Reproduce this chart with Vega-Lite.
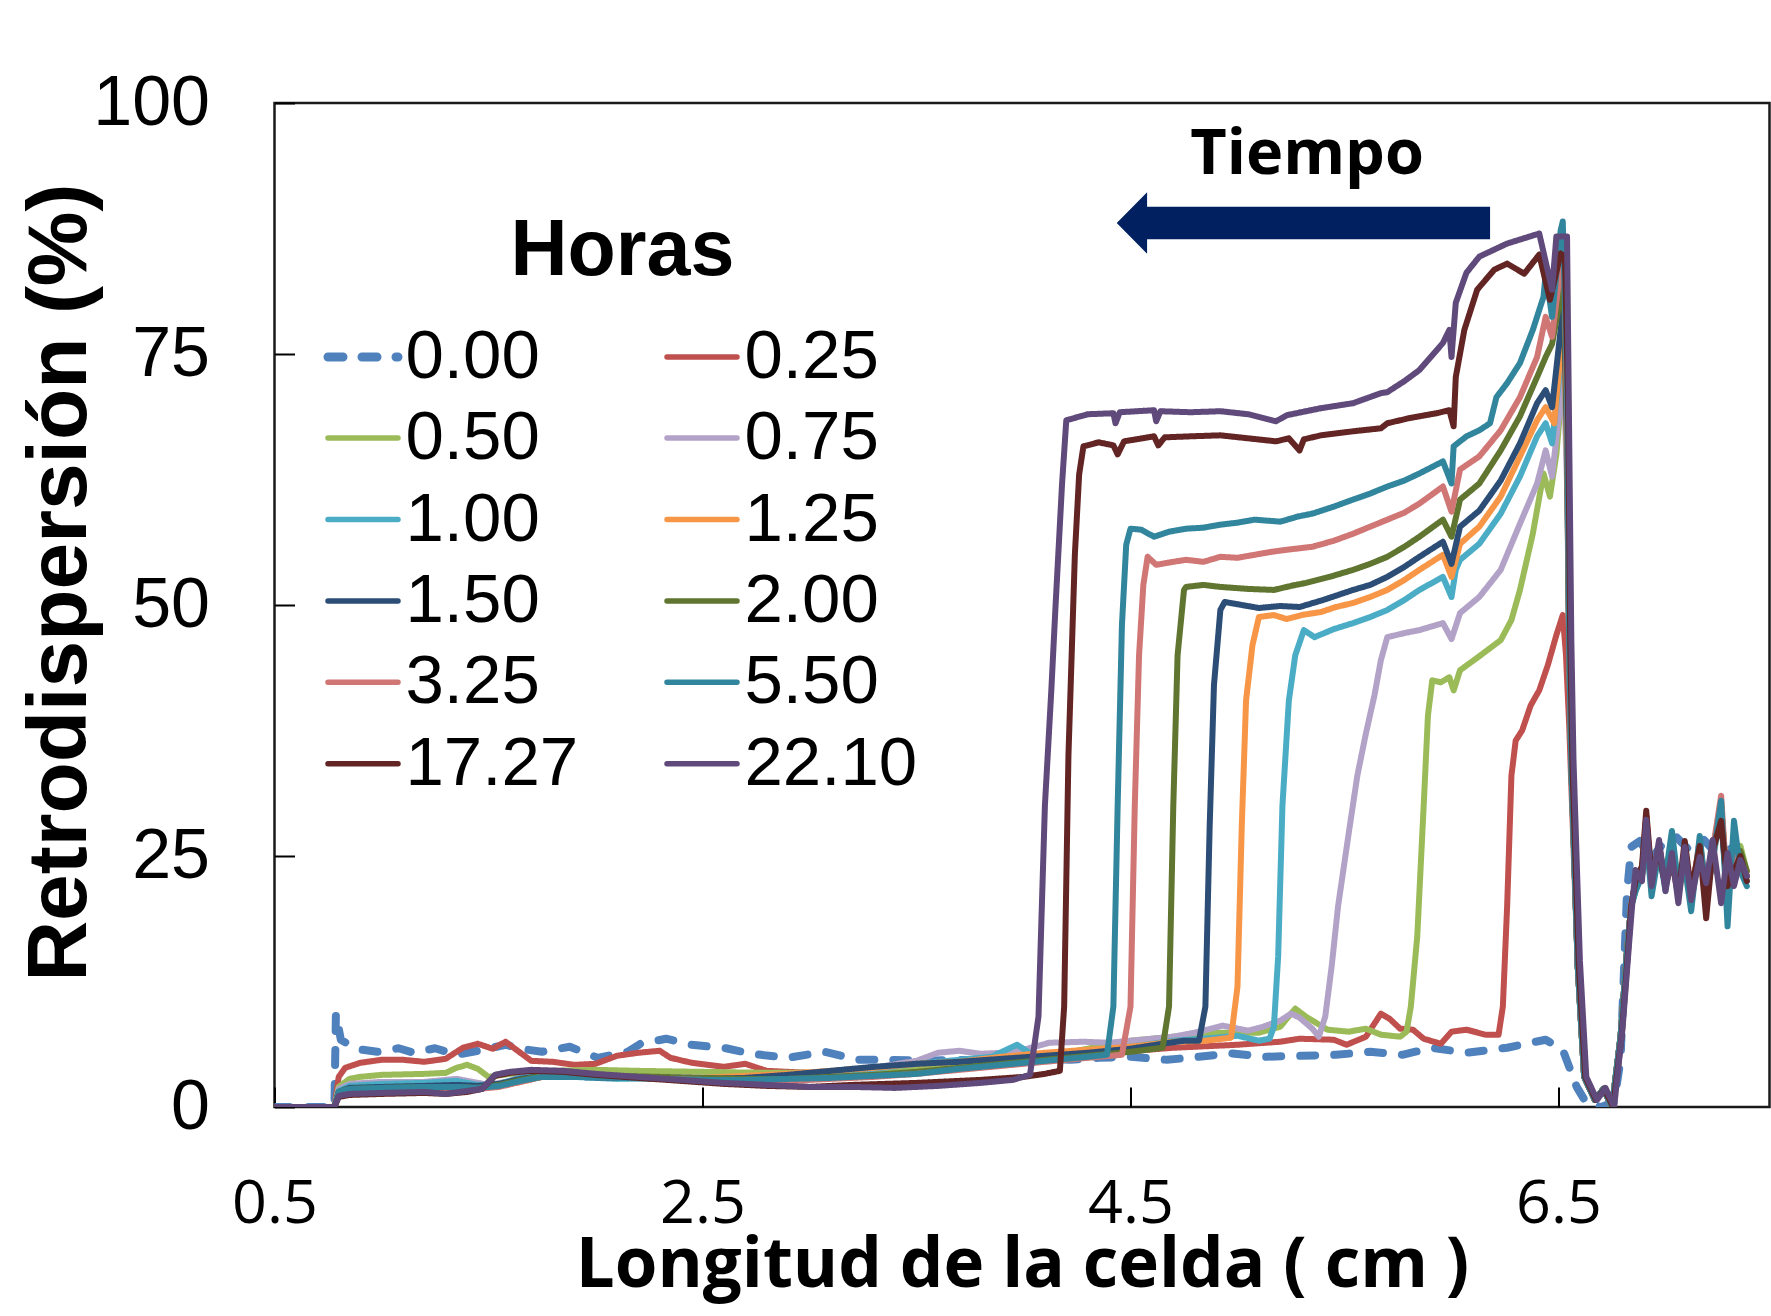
{
"$schema": "https://vega.github.io/schema/vega-lite/v6.json",
"width": 1495, "height": 1004,
"autosize": {"type": "none"},
"padding": {"left": 274.5, "top": 103, "right": 1.5, "bottom": 209},
"background": "white",
"config": {"view": {"stroke": "#1a1a1a", "strokeWidth": 2.5}, "axis": {"grid": false}},
"datasets": {
"ann": [{"label": "Tiempo", "x": 5.325, "y": 92.9}],
"arrow": [{"x": 5.308, "y": 88.05}],
"curves": [
{"h":"0.00","x":0.5,"y":0},{"h":"0.00","x":0.78,"y":0},{"h":"0.00","x":0.787,"y":9.3},{"h":"0.00","x":0.81,"y":6.7},{"h":"0.00","x":0.85,"y":6.2},{"h":"0.00","x":0.91,"y":5.7},{"h":"0.00","x":0.98,"y":5.5},{"h":"0.00","x":1.08,"y":5.85},{"h":"0.00","x":1.15,"y":5.4},{"h":"0.00","x":1.25,"y":5.85},{"h":"0.00","x":1.35,"y":5.2},{"h":"0.00","x":1.45,"y":5.6},{"h":"0.00","x":1.58,"y":6.2},{"h":"0.00","x":1.65,"y":5.8},{"h":"0.00","x":1.75,"y":5.5},{"h":"0.00","x":1.88,"y":6.0},{"h":"0.00","x":2.01,"y":4.9},{"h":"0.00","x":2.15,"y":5.5},{"h":"0.00","x":2.21,"y":6.3},{"h":"0.00","x":2.33,"y":6.8},{"h":"0.00","x":2.45,"y":6.2},{"h":"0.00","x":2.61,"y":5.85},{"h":"0.00","x":2.73,"y":5.3},{"h":"0.00","x":2.9,"y":4.9},{"h":"0.00","x":3.07,"y":5.5},{"h":"0.00","x":3.23,"y":4.7},{"h":"0.00","x":3.38,"y":4.7},{"h":"0.00","x":3.55,"y":4.6},{"h":"0.00","x":3.7,"y":4.7},{"h":"0.00","x":3.9,"y":4.5},{"h":"0.00","x":4.05,"y":4.9},{"h":"0.00","x":4.22,"y":4.7},{"h":"0.00","x":4.35,"y":4.9},{"h":"0.00","x":4.5,"y":5.0},{"h":"0.00","x":4.67,"y":4.7},{"h":"0.00","x":4.82,"y":5.0},{"h":"0.00","x":4.97,"y":5.35},{"h":"0.00","x":5.13,"y":5.0},{"h":"0.00","x":5.3,"y":5.1},{"h":"0.00","x":5.46,"y":5.2},{"h":"0.00","x":5.62,"y":5.5},{"h":"0.00","x":5.77,"y":5.2},{"h":"0.00","x":5.91,"y":5.9},{"h":"0.00","x":6.07,"y":5.4},{"h":"0.00","x":6.26,"y":5.9},{"h":"0.00","x":6.44,"y":6.7},{"h":"0.00","x":6.52,"y":5.7},{"h":"0.00","x":6.55,"y":4.0},{"h":"0.00","x":6.585,"y":2.0},{"h":"0.00","x":6.63,"y":0.4},{"h":"0.00","x":6.7,"y":0},{"h":"0.00","x":6.76,"y":0.5},{"h":"0.00","x":6.79,"y":4.7},{"h":"0.00","x":6.82,"y":21.3},{"h":"0.00","x":6.84,"y":25.9},{"h":"0.00","x":6.88,"y":26.5},{"h":"0.00","x":6.93,"y":24.6},{"h":"0.00","x":6.99,"y":26.3},{"h":"0.00","x":7.05,"y":26.9},{"h":"0.00","x":7.11,"y":25.6},{"h":"0.00","x":7.18,"y":26.6},{"h":"0.00","x":7.25,"y":24.9},{"h":"0.00","x":7.31,"y":25.8},{"h":"0.00","x":7.38,"y":24.3},

{"h":"0.25","x":0.5,"y":0},{"h":"0.25","x":0.78,"y":0},{"h":"0.25","x":0.8,"y":3.0},{"h":"0.25","x":0.83,"y":3.9},{"h":"0.25","x":0.9,"y":4.4},{"h":"0.25","x":1.0,"y":4.7},{"h":"0.25","x":1.1,"y":4.7},{"h":"0.25","x":1.2,"y":4.5},{"h":"0.25","x":1.3,"y":4.8},{"h":"0.25","x":1.38,"y":5.9},{"h":"0.25","x":1.45,"y":6.3},{"h":"0.25","x":1.52,"y":5.8},{"h":"0.25","x":1.58,"y":6.5},{"h":"0.25","x":1.63,"y":5.7},{"h":"0.25","x":1.7,"y":4.6},{"h":"0.25","x":1.8,"y":4.5},{"h":"0.25","x":1.9,"y":4.2},{"h":"0.25","x":2.0,"y":4.3},{"h":"0.25","x":2.1,"y":5.1},{"h":"0.25","x":2.2,"y":5.4},{"h":"0.25","x":2.3,"y":5.6},{"h":"0.25","x":2.35,"y":4.9},{"h":"0.25","x":2.45,"y":4.4},{"h":"0.25","x":2.6,"y":4.0},{"h":"0.25","x":2.7,"y":4.3},{"h":"0.25","x":2.8,"y":3.6},{"h":"0.25","x":2.9,"y":3.5},{"h":"0.25","x":3.0,"y":3.4},{"h":"0.25","x":3.2,"y":3.3},{"h":"0.25","x":3.5,"y":3.6},{"h":"0.25","x":3.8,"y":4.2},{"h":"0.25","x":4.1,"y":4.8},{"h":"0.25","x":4.4,"y":5.4},{"h":"0.25","x":4.7,"y":5.9},{"h":"0.25","x":5.0,"y":6.2},{"h":"0.25","x":5.2,"y":6.5},{"h":"0.25","x":5.29,"y":6.8},{"h":"0.25","x":5.45,"y":6.7},{"h":"0.25","x":5.51,"y":6.2},{"h":"0.25","x":5.6,"y":7.0},{"h":"0.25","x":5.67,"y":9.3},{"h":"0.25","x":5.71,"y":8.8},{"h":"0.25","x":5.76,"y":7.8},{"h":"0.25","x":5.82,"y":7.7},{"h":"0.25","x":5.87,"y":6.8},{"h":"0.25","x":5.95,"y":6.3},{"h":"0.25","x":6.0,"y":7.5},{"h":"0.25","x":6.07,"y":7.7},{"h":"0.25","x":6.16,"y":7.2},{"h":"0.25","x":6.22,"y":7.2},{"h":"0.25","x":6.24,"y":10},{"h":"0.25","x":6.26,"y":20},{"h":"0.25","x":6.28,"y":33},{"h":"0.25","x":6.3,"y":36.5},{"h":"0.25","x":6.33,"y":37.5},{"h":"0.25","x":6.37,"y":40},{"h":"0.25","x":6.41,"y":41.5},{"h":"0.25","x":6.45,"y":44},{"h":"0.25","x":6.49,"y":47},{"h":"0.25","x":6.52,"y":49},{"h":"0.25","x":6.535,"y":45},{"h":"0.25","x":6.55,"y":38},{"h":"0.25","x":6.56,"y":32},{"h":"0.25","x":6.59,"y":14},{"h":"0.25","x":6.62,"y":3},{"h":"0.25","x":6.67,"y":0.7},{"h":"0.25","x":6.71,"y":1.8},{"h":"0.25","x":6.75,"y":0},{"h":"0.25","x":6.79,"y":7},{"h":"0.25","x":6.82,"y":15.5},{"h":"0.25","x":6.84,"y":20},{"h":"0.25","x":6.86,"y":22.5},{"h":"0.25","x":6.89,"y":23.0},{"h":"0.25","x":6.91,"y":29.0},{"h":"0.25","x":6.935,"y":22.0},{"h":"0.25","x":6.97,"y":25.5},{"h":"0.25","x":7.0,"y":22.5},{"h":"0.25","x":7.03,"y":26.5},{"h":"0.25","x":7.06,"y":21.5},{"h":"0.25","x":7.09,"y":25.0},{"h":"0.25","x":7.12,"y":21.5},{"h":"0.25","x":7.16,"y":26.0},{"h":"0.25","x":7.19,"y":22.0},{"h":"0.25","x":7.22,"y":25.0},{"h":"0.25","x":7.26,"y":29.5},{"h":"0.25","x":7.29,"y":21.5},{"h":"0.25","x":7.32,"y":24.5},{"h":"0.25","x":7.35,"y":25.0},{"h":"0.25","x":7.38,"y":23.0},

{"h":"0.50","x":0.5,"y":0},{"h":"0.50","x":0.78,"y":0},{"h":"0.50","x":0.8,"y":2.0},{"h":"0.50","x":0.85,"y":2.8},{"h":"0.50","x":0.9,"y":3.0},{"h":"0.50","x":1.0,"y":3.2},{"h":"0.50","x":1.2,"y":3.3},{"h":"0.50","x":1.3,"y":3.4},{"h":"0.50","x":1.35,"y":3.9},{"h":"0.50","x":1.4,"y":4.2},{"h":"0.50","x":1.45,"y":3.8},{"h":"0.50","x":1.5,"y":3.0},{"h":"0.50","x":1.6,"y":3.3},{"h":"0.50","x":1.8,"y":3.6},{"h":"0.50","x":2.0,"y":3.7},{"h":"0.50","x":2.2,"y":3.6},{"h":"0.50","x":2.5,"y":3.5},{"h":"0.50","x":2.8,"y":3.4},{"h":"0.50","x":3.0,"y":3.4},{"h":"0.50","x":3.3,"y":3.6},{"h":"0.50","x":3.6,"y":4.1},{"h":"0.50","x":3.9,"y":4.7},{"h":"0.50","x":4.2,"y":5.4},{"h":"0.50","x":4.5,"y":6.6},{"h":"0.50","x":4.7,"y":7.0},{"h":"0.50","x":4.9,"y":7.4},{"h":"0.50","x":5.1,"y":7.4},{"h":"0.50","x":5.2,"y":8.0},{"h":"0.50","x":5.27,"y":9.8},{"h":"0.50","x":5.32,"y":9.0},{"h":"0.50","x":5.42,"y":7.7},{"h":"0.50","x":5.52,"y":7.5},{"h":"0.50","x":5.6,"y":7.8},{"h":"0.50","x":5.67,"y":7.2},{"h":"0.50","x":5.76,"y":7.0},{"h":"0.50","x":5.79,"y":7.5},{"h":"0.50","x":5.81,"y":10},{"h":"0.50","x":5.84,"y":17},{"h":"0.50","x":5.87,"y":30},{"h":"0.50","x":5.89,"y":39},{"h":"0.50","x":5.91,"y":42.5},{"h":"0.50","x":5.95,"y":42.3},{"h":"0.50","x":5.99,"y":42.8},{"h":"0.50","x":6.01,"y":41.5},{"h":"0.50","x":6.04,"y":43.5},{"h":"0.50","x":6.13,"y":44.9},{"h":"0.50","x":6.23,"y":46.5},{"h":"0.50","x":6.28,"y":48.5},{"h":"0.50","x":6.32,"y":51.5},{"h":"0.50","x":6.38,"y":57.1},{"h":"0.50","x":6.43,"y":63.1},{"h":"0.50","x":6.46,"y":60.8},{"h":"0.50","x":6.49,"y":65},{"h":"0.50","x":6.51,"y":70},{"h":"0.50","x":6.525,"y":79},{"h":"0.50","x":6.54,"y":65},{"h":"0.50","x":6.55,"y":46},{"h":"0.50","x":6.56,"y":34},{"h":"0.50","x":6.59,"y":14},{"h":"0.50","x":6.62,"y":3},{"h":"0.50","x":6.67,"y":0.7},{"h":"0.50","x":6.71,"y":1.8},{"h":"0.50","x":6.75,"y":0},{"h":"0.50","x":6.79,"y":7},{"h":"0.50","x":6.82,"y":15.5},{"h":"0.50","x":6.84,"y":20},{"h":"0.50","x":6.86,"y":22.0},{"h":"0.50","x":6.89,"y":23.5},{"h":"0.50","x":6.91,"y":28.5},{"h":"0.50","x":6.935,"y":22.0},{"h":"0.50","x":6.97,"y":26.0},{"h":"0.50","x":7.0,"y":22.0},{"h":"0.50","x":7.03,"y":26.0},{"h":"0.50","x":7.06,"y":21.0},{"h":"0.50","x":7.09,"y":25.5},{"h":"0.50","x":7.12,"y":21.0},{"h":"0.50","x":7.16,"y":25.5},{"h":"0.50","x":7.19,"y":21.5},{"h":"0.50","x":7.22,"y":25.5},{"h":"0.50","x":7.26,"y":30.0},{"h":"0.50","x":7.29,"y":21.0},{"h":"0.50","x":7.32,"y":25.0},{"h":"0.50","x":7.35,"y":26.0},{"h":"0.50","x":7.38,"y":23.5},

{"h":"0.75","x":0.5,"y":0},{"h":"0.75","x":0.78,"y":0},{"h":"0.75","x":0.8,"y":1.8},{"h":"0.75","x":0.85,"y":2.3},{"h":"0.75","x":1.0,"y":2.5},{"h":"0.75","x":1.2,"y":2.5},{"h":"0.75","x":1.35,"y":2.8},{"h":"0.75","x":1.45,"y":2.4},{"h":"0.75","x":1.5,"y":2.2},{"h":"0.75","x":1.58,"y":2.5},{"h":"0.75","x":1.66,"y":3.0},{"h":"0.75","x":1.75,"y":3.2},{"h":"0.75","x":1.9,"y":3.1},{"h":"0.75","x":2.1,"y":3.0},{"h":"0.75","x":2.3,"y":3.0},{"h":"0.75","x":2.5,"y":2.9},{"h":"0.75","x":2.7,"y":3.0},{"h":"0.75","x":2.9,"y":3.1},{"h":"0.75","x":3.1,"y":3.4},{"h":"0.75","x":3.3,"y":3.9},{"h":"0.75","x":3.5,"y":4.6},{"h":"0.75","x":3.6,"y":5.4},{"h":"0.75","x":3.7,"y":5.6},{"h":"0.75","x":3.8,"y":5.3},{"h":"0.75","x":3.9,"y":5.4},{"h":"0.75","x":4.0,"y":5.7},{"h":"0.75","x":4.12,"y":6.4},{"h":"0.75","x":4.28,"y":6.5},{"h":"0.75","x":4.4,"y":6.4},{"h":"0.75","x":4.5,"y":6.6},{"h":"0.75","x":4.7,"y":7.0},{"h":"0.75","x":4.8,"y":7.4},{"h":"0.75","x":4.93,"y":8.1},{"h":"0.75","x":5.05,"y":7.6},{"h":"0.75","x":5.12,"y":8.0},{"h":"0.75","x":5.2,"y":8.6},{"h":"0.75","x":5.25,"y":9.3},{"h":"0.75","x":5.29,"y":8.9},{"h":"0.75","x":5.35,"y":7.8},{"h":"0.75","x":5.38,"y":7.0},{"h":"0.75","x":5.41,"y":9},{"h":"0.75","x":5.44,"y":14},{"h":"0.75","x":5.47,"y":20},{"h":"0.75","x":5.52,"y":27.3},{"h":"0.75","x":5.56,"y":33},{"h":"0.75","x":5.6,"y":37.2},{"h":"0.75","x":5.64,"y":41},{"h":"0.75","x":5.67,"y":44.5},{"h":"0.75","x":5.7,"y":46.8},{"h":"0.75","x":5.78,"y":47.2},{"h":"0.75","x":5.85,"y":47.5},{"h":"0.75","x":5.96,"y":48.2},{"h":"0.75","x":6.0,"y":46.6},{"h":"0.75","x":6.04,"y":49.2},{"h":"0.75","x":6.13,"y":50.8},{"h":"0.75","x":6.23,"y":53.5},{"h":"0.75","x":6.32,"y":58.1},{"h":"0.75","x":6.4,"y":62.1},{"h":"0.75","x":6.44,"y":65.4},{"h":"0.75","x":6.47,"y":62.8},{"h":"0.75","x":6.51,"y":70.4},{"h":"0.75","x":6.525,"y":73},{"h":"0.75","x":6.54,"y":62},{"h":"0.75","x":6.55,"y":46},{"h":"0.75","x":6.56,"y":34},{"h":"0.75","x":6.59,"y":14},{"h":"0.75","x":6.62,"y":3},{"h":"0.75","x":6.67,"y":0.7},{"h":"0.75","x":6.71,"y":1.8},{"h":"0.75","x":6.75,"y":0},{"h":"0.75","x":6.79,"y":7},{"h":"0.75","x":6.82,"y":15.5},{"h":"0.75","x":6.84,"y":20},{"h":"0.75","x":6.86,"y":22.5},{"h":"0.75","x":6.89,"y":23.0},{"h":"0.75","x":6.91,"y":28.0},{"h":"0.75","x":6.935,"y":22.5},{"h":"0.75","x":6.97,"y":25.5},{"h":"0.75","x":7.0,"y":22.0},{"h":"0.75","x":7.03,"y":25.5},{"h":"0.75","x":7.06,"y":21.5},{"h":"0.75","x":7.09,"y":25.5},{"h":"0.75","x":7.12,"y":21.5},{"h":"0.75","x":7.16,"y":25.0},{"h":"0.75","x":7.19,"y":22.0},{"h":"0.75","x":7.22,"y":25.0},{"h":"0.75","x":7.26,"y":29.0},{"h":"0.75","x":7.29,"y":21.5},{"h":"0.75","x":7.32,"y":24.5},{"h":"0.75","x":7.35,"y":24.5},{"h":"0.75","x":7.38,"y":23.5},

{"h":"1.00","x":0.5,"y":0},{"h":"1.00","x":0.78,"y":0},{"h":"1.00","x":0.8,"y":1.6},{"h":"1.00","x":0.85,"y":2.1},{"h":"1.00","x":1.0,"y":2.3},{"h":"1.00","x":1.2,"y":2.4},{"h":"1.00","x":1.35,"y":2.6},{"h":"1.00","x":1.45,"y":2.2},{"h":"1.00","x":1.55,"y":2.3},{"h":"1.00","x":1.65,"y":2.9},{"h":"1.00","x":1.75,"y":3.2},{"h":"1.00","x":1.9,"y":3.0},{"h":"1.00","x":2.1,"y":2.8},{"h":"1.00","x":2.3,"y":2.9},{"h":"1.00","x":2.5,"y":2.8},{"h":"1.00","x":2.7,"y":3.0},{"h":"1.00","x":2.9,"y":3.2},{"h":"1.00","x":3.1,"y":3.5},{"h":"1.00","x":3.3,"y":3.8},{"h":"1.00","x":3.5,"y":4.3},{"h":"1.00","x":3.7,"y":4.7},{"h":"1.00","x":3.85,"y":5.0},{"h":"1.00","x":3.97,"y":6.2},{"h":"1.00","x":4.05,"y":5.1},{"h":"1.00","x":4.15,"y":5.0},{"h":"1.00","x":4.3,"y":5.5},{"h":"1.00","x":4.5,"y":6.0},{"h":"1.00","x":4.7,"y":6.6},{"h":"1.00","x":4.9,"y":6.9},{"h":"1.00","x":5.0,"y":7.1},{"h":"1.00","x":5.1,"y":6.6},{"h":"1.00","x":5.15,"y":6.8},{"h":"1.00","x":5.17,"y":8},{"h":"1.00","x":5.19,"y":15},{"h":"1.00","x":5.21,"y":30},{"h":"1.00","x":5.24,"y":40.5},{"h":"1.00","x":5.27,"y":45},{"h":"1.00","x":5.31,"y":47.5},{"h":"1.00","x":5.36,"y":46.8},{"h":"1.00","x":5.45,"y":47.6},{"h":"1.00","x":5.54,"y":48.2},{"h":"1.00","x":5.62,"y":48.8},{"h":"1.00","x":5.7,"y":49.5},{"h":"1.00","x":5.78,"y":50.5},{"h":"1.00","x":5.85,"y":51.5},{"h":"1.00","x":5.96,"y":52.8},{"h":"1.00","x":6.0,"y":50.8},{"h":"1.00","x":6.02,"y":53.5},{"h":"1.00","x":6.04,"y":54.5},{"h":"1.00","x":6.13,"y":56.1},{"h":"1.00","x":6.23,"y":59.1},{"h":"1.00","x":6.32,"y":62.8},{"h":"1.00","x":6.4,"y":66.8},{"h":"1.00","x":6.44,"y":68.1},{"h":"1.00","x":6.47,"y":66.1},{"h":"1.00","x":6.51,"y":74.1},{"h":"1.00","x":6.525,"y":77},{"h":"1.00","x":6.54,"y":64},{"h":"1.00","x":6.55,"y":46},{"h":"1.00","x":6.56,"y":34},{"h":"1.00","x":6.59,"y":14},{"h":"1.00","x":6.62,"y":3},{"h":"1.00","x":6.67,"y":0.7},{"h":"1.00","x":6.71,"y":1.8},{"h":"1.00","x":6.75,"y":0},{"h":"1.00","x":6.79,"y":7},{"h":"1.00","x":6.82,"y":15.5},{"h":"1.00","x":6.84,"y":20},{"h":"1.00","x":6.86,"y":21.5},{"h":"1.00","x":6.89,"y":23.5},{"h":"1.00","x":6.91,"y":27.0},{"h":"1.00","x":6.935,"y":22.0},{"h":"1.00","x":6.97,"y":25.5},{"h":"1.00","x":7.0,"y":21.5},{"h":"1.00","x":7.03,"y":27.0},{"h":"1.00","x":7.06,"y":21.5},{"h":"1.00","x":7.09,"y":24.5},{"h":"1.00","x":7.12,"y":20.5},{"h":"1.00","x":7.16,"y":26.0},{"h":"1.00","x":7.19,"y":21.0},{"h":"1.00","x":7.22,"y":24.5},{"h":"1.00","x":7.26,"y":29.5},{"h":"1.00","x":7.29,"y":20.5},{"h":"1.00","x":7.32,"y":26.0},{"h":"1.00","x":7.35,"y":24.0},{"h":"1.00","x":7.38,"y":22.5},

{"h":"1.25","x":0.5,"y":0},{"h":"1.25","x":0.78,"y":0},{"h":"1.25","x":0.8,"y":1.4},{"h":"1.25","x":0.85,"y":1.8},{"h":"1.25","x":1.0,"y":1.9},{"h":"1.25","x":1.2,"y":2.0},{"h":"1.25","x":1.35,"y":2.1},{"h":"1.25","x":1.45,"y":2.0},{"h":"1.25","x":1.55,"y":2.1},{"h":"1.25","x":1.65,"y":2.5},{"h":"1.25","x":1.75,"y":3.0},{"h":"1.25","x":1.9,"y":3.1},{"h":"1.25","x":2.1,"y":2.9},{"h":"1.25","x":2.3,"y":2.9},{"h":"1.25","x":2.5,"y":2.9},{"h":"1.25","x":2.7,"y":3.1},{"h":"1.25","x":2.9,"y":3.3},{"h":"1.25","x":3.1,"y":3.6},{"h":"1.25","x":3.3,"y":3.9},{"h":"1.25","x":3.5,"y":4.3},{"h":"1.25","x":3.7,"y":4.5},{"h":"1.25","x":3.9,"y":5.0},{"h":"1.25","x":4.1,"y":5.4},{"h":"1.25","x":4.3,"y":5.7},{"h":"1.25","x":4.5,"y":6.0},{"h":"1.25","x":4.7,"y":6.5},{"h":"1.25","x":4.85,"y":6.6},{"h":"1.25","x":4.97,"y":6.9},{"h":"1.25","x":5.0,"y":12},{"h":"1.25","x":5.02,"y":28},{"h":"1.25","x":5.04,"y":40.5},{"h":"1.25","x":5.07,"y":46},{"h":"1.25","x":5.1,"y":48.8},{"h":"1.25","x":5.17,"y":49.0},{"h":"1.25","x":5.23,"y":48.6},{"h":"1.25","x":5.3,"y":49.0},{"h":"1.25","x":5.39,"y":49.3},{"h":"1.25","x":5.46,"y":49.8},{"h":"1.25","x":5.54,"y":50.2},{"h":"1.25","x":5.62,"y":50.8},{"h":"1.25","x":5.7,"y":51.5},{"h":"1.25","x":5.78,"y":52.5},{"h":"1.25","x":5.85,"y":53.5},{"h":"1.25","x":5.96,"y":55.0},{"h":"1.25","x":6.0,"y":52.8},{"h":"1.25","x":6.04,"y":56.1},{"h":"1.25","x":6.13,"y":57.8},{"h":"1.25","x":6.23,"y":60.8},{"h":"1.25","x":6.32,"y":64.8},{"h":"1.25","x":6.4,"y":68.4},{"h":"1.25","x":6.44,"y":69.7},{"h":"1.25","x":6.48,"y":68.1},{"h":"1.25","x":6.51,"y":75.4},{"h":"1.25","x":6.525,"y":78},{"h":"1.25","x":6.54,"y":64},{"h":"1.25","x":6.55,"y":46},{"h":"1.25","x":6.56,"y":34},{"h":"1.25","x":6.59,"y":14},{"h":"1.25","x":6.62,"y":3},{"h":"1.25","x":6.67,"y":0.7},{"h":"1.25","x":6.71,"y":1.8},{"h":"1.25","x":6.75,"y":0},{"h":"1.25","x":6.79,"y":7},{"h":"1.25","x":6.82,"y":15.5},{"h":"1.25","x":6.84,"y":20},{"h":"1.25","x":6.86,"y":22.5},{"h":"1.25","x":6.89,"y":23.0},{"h":"1.25","x":6.91,"y":28.0},{"h":"1.25","x":6.935,"y":21.5},{"h":"1.25","x":6.97,"y":26.0},{"h":"1.25","x":7.0,"y":22.5},{"h":"1.25","x":7.03,"y":26.5},{"h":"1.25","x":7.06,"y":21.0},{"h":"1.25","x":7.09,"y":25.0},{"h":"1.25","x":7.12,"y":21.0},{"h":"1.25","x":7.16,"y":25.5},{"h":"1.25","x":7.19,"y":21.5},{"h":"1.25","x":7.22,"y":25.0},{"h":"1.25","x":7.26,"y":29.0},{"h":"1.25","x":7.29,"y":22.0},{"h":"1.25","x":7.32,"y":24.5},{"h":"1.25","x":7.35,"y":25.0},{"h":"1.25","x":7.38,"y":23.5},

{"h":"1.50","x":0.5,"y":0},{"h":"1.50","x":0.78,"y":0},{"h":"1.50","x":0.8,"y":1.5},{"h":"1.50","x":0.85,"y":1.9},{"h":"1.50","x":1.0,"y":2.0},{"h":"1.50","x":1.2,"y":2.1},{"h":"1.50","x":1.35,"y":2.2},{"h":"1.50","x":1.45,"y":2.1},{"h":"1.50","x":1.55,"y":2.3},{"h":"1.50","x":1.65,"y":2.8},{"h":"1.50","x":1.75,"y":3.1},{"h":"1.50","x":1.9,"y":3.0},{"h":"1.50","x":2.1,"y":2.9},{"h":"1.50","x":2.3,"y":2.9},{"h":"1.50","x":2.5,"y":2.8},{"h":"1.50","x":2.7,"y":2.9},{"h":"1.50","x":2.9,"y":3.2},{"h":"1.50","x":3.1,"y":3.6},{"h":"1.50","x":3.3,"y":4.0},{"h":"1.50","x":3.5,"y":4.3},{"h":"1.50","x":3.7,"y":4.5},{"h":"1.50","x":3.9,"y":4.8},{"h":"1.50","x":4.1,"y":5.1},{"h":"1.50","x":4.3,"y":5.4},{"h":"1.50","x":4.5,"y":5.8},{"h":"1.50","x":4.65,"y":6.3},{"h":"1.50","x":4.75,"y":6.6},{"h":"1.50","x":4.82,"y":6.6},{"h":"1.50","x":4.85,"y":10},{"h":"1.50","x":4.87,"y":28},{"h":"1.50","x":4.89,"y":42},{"h":"1.50","x":4.92,"y":49.5},{"h":"1.50","x":4.94,"y":50.3},{"h":"1.50","x":5.02,"y":50.0},{"h":"1.50","x":5.1,"y":49.7},{"h":"1.50","x":5.2,"y":49.9},{"h":"1.50","x":5.29,"y":49.8},{"h":"1.50","x":5.4,"y":50.5},{"h":"1.50","x":5.54,"y":51.5},{"h":"1.50","x":5.62,"y":52.0},{"h":"1.50","x":5.7,"y":52.8},{"h":"1.50","x":5.78,"y":53.8},{"h":"1.50","x":5.85,"y":54.8},{"h":"1.50","x":5.96,"y":56.3},{"h":"1.50","x":6.0,"y":54.1},{"h":"1.50","x":6.04,"y":57.8},{"h":"1.50","x":6.13,"y":59.4},{"h":"1.50","x":6.23,"y":62.4},{"h":"1.50","x":6.32,"y":66.1},{"h":"1.50","x":6.4,"y":70.1},{"h":"1.50","x":6.44,"y":71.4},{"h":"1.50","x":6.47,"y":69.7},{"h":"1.50","x":6.51,"y":77.4},{"h":"1.50","x":6.525,"y":80},{"h":"1.50","x":6.54,"y":66},{"h":"1.50","x":6.55,"y":46},{"h":"1.50","x":6.56,"y":34},{"h":"1.50","x":6.59,"y":14},{"h":"1.50","x":6.62,"y":3},{"h":"1.50","x":6.67,"y":0.7},{"h":"1.50","x":6.71,"y":1.8},{"h":"1.50","x":6.75,"y":0},{"h":"1.50","x":6.79,"y":7},{"h":"1.50","x":6.82,"y":15.5},{"h":"1.50","x":6.84,"y":20},{"h":"1.50","x":6.86,"y":22.0},{"h":"1.50","x":6.89,"y":23.5},{"h":"1.50","x":6.91,"y":27.5},{"h":"1.50","x":6.935,"y":22.5},{"h":"1.50","x":6.97,"y":25.0},{"h":"1.50","x":7.0,"y":22.0},{"h":"1.50","x":7.03,"y":26.0},{"h":"1.50","x":7.06,"y":21.5},{"h":"1.50","x":7.09,"y":25.5},{"h":"1.50","x":7.12,"y":21.5},{"h":"1.50","x":7.16,"y":25.0},{"h":"1.50","x":7.19,"y":22.0},{"h":"1.50","x":7.22,"y":25.5},{"h":"1.50","x":7.26,"y":28.5},{"h":"1.50","x":7.29,"y":21.0},{"h":"1.50","x":7.32,"y":25.0},{"h":"1.50","x":7.35,"y":24.0},{"h":"1.50","x":7.38,"y":23.0},

{"h":"2.00","x":0.5,"y":0},{"h":"2.00","x":0.78,"y":0},{"h":"2.00","x":0.8,"y":1.5},{"h":"2.00","x":0.85,"y":1.8},{"h":"2.00","x":1.0,"y":1.9},{"h":"2.00","x":1.2,"y":2.0},{"h":"2.00","x":1.35,"y":2.0},{"h":"2.00","x":1.45,"y":1.9},{"h":"2.00","x":1.55,"y":2.2},{"h":"2.00","x":1.65,"y":2.7},{"h":"2.00","x":1.75,"y":3.1},{"h":"2.00","x":1.9,"y":3.2},{"h":"2.00","x":2.1,"y":3.1},{"h":"2.00","x":2.3,"y":3.0},{"h":"2.00","x":2.5,"y":2.9},{"h":"2.00","x":2.7,"y":2.8},{"h":"2.00","x":2.9,"y":2.8},{"h":"2.00","x":3.1,"y":3.0},{"h":"2.00","x":3.3,"y":3.2},{"h":"2.00","x":3.5,"y":3.5},{"h":"2.00","x":3.7,"y":3.9},{"h":"2.00","x":3.9,"y":4.3},{"h":"2.00","x":4.1,"y":4.7},{"h":"2.00","x":4.3,"y":5.1},{"h":"2.00","x":4.5,"y":5.5},{"h":"2.00","x":4.65,"y":5.9},{"h":"2.00","x":4.68,"y":10},{"h":"2.00","x":4.7,"y":30},{"h":"2.00","x":4.72,"y":45},{"h":"2.00","x":4.75,"y":51.5},{"h":"2.00","x":4.76,"y":51.8},{"h":"2.00","x":4.84,"y":52.0},{"h":"2.00","x":4.92,"y":51.8},{"h":"2.00","x":5.05,"y":51.6},{"h":"2.00","x":5.17,"y":51.5},{"h":"2.00","x":5.25,"y":51.9},{"h":"2.00","x":5.32,"y":52.2},{"h":"2.00","x":5.43,"y":52.8},{"h":"2.00","x":5.54,"y":53.5},{"h":"2.00","x":5.62,"y":54.1},{"h":"2.00","x":5.7,"y":54.8},{"h":"2.00","x":5.78,"y":55.8},{"h":"2.00","x":5.85,"y":56.8},{"h":"2.00","x":5.96,"y":58.5},{"h":"2.00","x":6.0,"y":56.8},{"h":"2.00","x":6.04,"y":60.5},{"h":"2.00","x":6.13,"y":62.1},{"h":"2.00","x":6.23,"y":65.4},{"h":"2.00","x":6.32,"y":68.8},{"h":"2.00","x":6.4,"y":72.7},{"h":"2.00","x":6.44,"y":74.7},{"h":"2.00","x":6.47,"y":76.0},{"h":"2.00","x":6.51,"y":80.7},{"h":"2.00","x":6.525,"y":82},{"h":"2.00","x":6.54,"y":68},{"h":"2.00","x":6.55,"y":46},{"h":"2.00","x":6.56,"y":34},{"h":"2.00","x":6.59,"y":14},{"h":"2.00","x":6.62,"y":3},{"h":"2.00","x":6.67,"y":0.7},{"h":"2.00","x":6.71,"y":1.8},{"h":"2.00","x":6.75,"y":0},{"h":"2.00","x":6.79,"y":7},{"h":"2.00","x":6.82,"y":15.5},{"h":"2.00","x":6.84,"y":20},{"h":"2.00","x":6.86,"y":22.5},{"h":"2.00","x":6.89,"y":23.0},{"h":"2.00","x":6.91,"y":28.0},{"h":"2.00","x":6.935,"y":22.0},{"h":"2.00","x":6.97,"y":25.5},{"h":"2.00","x":7.0,"y":22.5},{"h":"2.00","x":7.03,"y":26.0},{"h":"2.00","x":7.06,"y":22.0},{"h":"2.00","x":7.09,"y":25.0},{"h":"2.00","x":7.12,"y":21.0},{"h":"2.00","x":7.16,"y":25.5},{"h":"2.00","x":7.19,"y":22.0},{"h":"2.00","x":7.22,"y":25.0},{"h":"2.00","x":7.26,"y":30.0},{"h":"2.00","x":7.29,"y":21.5},{"h":"2.00","x":7.32,"y":24.5},{"h":"2.00","x":7.35,"y":25.5},{"h":"2.00","x":7.38,"y":23.5},

{"h":"3.25","x":0.5,"y":0},{"h":"3.25","x":0.78,"y":0},{"h":"3.25","x":0.8,"y":1.4},{"h":"3.25","x":0.85,"y":1.7},{"h":"3.25","x":1.0,"y":1.8},{"h":"3.25","x":1.2,"y":1.9},{"h":"3.25","x":1.35,"y":1.9},{"h":"3.25","x":1.45,"y":1.8},{"h":"3.25","x":1.55,"y":2.0},{"h":"3.25","x":1.65,"y":2.5},{"h":"3.25","x":1.75,"y":3.0},{"h":"3.25","x":1.9,"y":3.1},{"h":"3.25","x":2.1,"y":3.0},{"h":"3.25","x":2.3,"y":2.8},{"h":"3.25","x":2.5,"y":2.7},{"h":"3.25","x":2.7,"y":2.6},{"h":"3.25","x":2.9,"y":2.6},{"h":"3.25","x":3.1,"y":2.8},{"h":"3.25","x":3.3,"y":3.0},{"h":"3.25","x":3.5,"y":3.3},{"h":"3.25","x":3.7,"y":3.7},{"h":"3.25","x":3.9,"y":4.1},{"h":"3.25","x":4.1,"y":4.5},{"h":"3.25","x":4.3,"y":4.9},{"h":"3.25","x":4.46,"y":5.2},{"h":"3.25","x":4.5,"y":10},{"h":"3.25","x":4.52,"y":30},{"h":"3.25","x":4.54,"y":45},{"h":"3.25","x":4.56,"y":52},{"h":"3.25","x":4.58,"y":54.8},{"h":"3.25","x":4.62,"y":54.0},{"h":"3.25","x":4.7,"y":54.3},{"h":"3.25","x":4.76,"y":54.5},{"h":"3.25","x":4.84,"y":54.3},{"h":"3.25","x":4.92,"y":54.8},{"h":"3.25","x":5.0,"y":54.7},{"h":"3.25","x":5.08,"y":55.0},{"h":"3.25","x":5.16,"y":55.3},{"h":"3.25","x":5.23,"y":55.5},{"h":"3.25","x":5.35,"y":55.8},{"h":"3.25","x":5.45,"y":56.4},{"h":"3.25","x":5.54,"y":57.1},{"h":"3.25","x":5.62,"y":57.8},{"h":"3.25","x":5.7,"y":58.5},{"h":"3.25","x":5.78,"y":59.2},{"h":"3.25","x":5.85,"y":60.1},{"h":"3.25","x":5.96,"y":61.8},{"h":"3.25","x":6.0,"y":59.3},{"h":"3.25","x":6.04,"y":63.5},{"h":"3.25","x":6.13,"y":64.8},{"h":"3.25","x":6.23,"y":67.4},{"h":"3.25","x":6.32,"y":70.7},{"h":"3.25","x":6.4,"y":74.7},{"h":"3.25","x":6.44,"y":78.7},{"h":"3.25","x":6.47,"y":76.7},{"h":"3.25","x":6.51,"y":83.7},{"h":"3.25","x":6.525,"y":85.4},{"h":"3.25","x":6.54,"y":70},{"h":"3.25","x":6.55,"y":46},{"h":"3.25","x":6.56,"y":34},{"h":"3.25","x":6.59,"y":14},{"h":"3.25","x":6.62,"y":3},{"h":"3.25","x":6.67,"y":0.7},{"h":"3.25","x":6.71,"y":1.8},{"h":"3.25","x":6.75,"y":0},{"h":"3.25","x":6.79,"y":7},{"h":"3.25","x":6.82,"y":15.5},{"h":"3.25","x":6.84,"y":20},{"h":"3.25","x":6.86,"y":22.0},{"h":"3.25","x":6.89,"y":23.5},{"h":"3.25","x":6.91,"y":29.0},{"h":"3.25","x":6.935,"y":22.5},{"h":"3.25","x":6.97,"y":26.0},{"h":"3.25","x":7.0,"y":22.0},{"h":"3.25","x":7.03,"y":26.5},{"h":"3.25","x":7.06,"y":21.5},{"h":"3.25","x":7.09,"y":25.0},{"h":"3.25","x":7.12,"y":21.0},{"h":"3.25","x":7.16,"y":26.5},{"h":"3.25","x":7.19,"y":21.5},{"h":"3.25","x":7.22,"y":25.5},{"h":"3.25","x":7.26,"y":31.0},{"h":"3.25","x":7.29,"y":21.0},{"h":"3.25","x":7.32,"y":25.0},{"h":"3.25","x":7.35,"y":24.5},{"h":"3.25","x":7.38,"y":23.0},

{"h":"5.50","x":0.5,"y":0},{"h":"5.50","x":0.78,"y":0},{"h":"5.50","x":0.8,"y":1.5},{"h":"5.50","x":0.85,"y":1.8},{"h":"5.50","x":1.0,"y":1.9},{"h":"5.50","x":1.2,"y":2.0},{"h":"5.50","x":1.35,"y":2.0},{"h":"5.50","x":1.45,"y":1.9},{"h":"5.50","x":1.55,"y":2.1},{"h":"5.50","x":1.65,"y":2.6},{"h":"5.50","x":1.75,"y":3.0},{"h":"5.50","x":1.9,"y":3.0},{"h":"5.50","x":2.1,"y":2.9},{"h":"5.50","x":2.3,"y":2.8},{"h":"5.50","x":2.5,"y":2.7},{"h":"5.50","x":2.7,"y":2.7},{"h":"5.50","x":2.9,"y":2.8},{"h":"5.50","x":3.1,"y":2.9},{"h":"5.50","x":3.3,"y":3.1},{"h":"5.50","x":3.5,"y":3.3},{"h":"5.50","x":3.7,"y":3.8},{"h":"5.50","x":3.9,"y":4.2},{"h":"5.50","x":4.1,"y":4.6},{"h":"5.50","x":4.3,"y":5.0},{"h":"5.50","x":4.39,"y":5.2},{"h":"5.50","x":4.42,"y":10},{"h":"5.50","x":4.44,"y":30},{"h":"5.50","x":4.46,"y":48},{"h":"5.50","x":4.48,"y":56},{"h":"5.50","x":4.5,"y":57.6},{"h":"5.50","x":4.55,"y":57.5},{"h":"5.50","x":4.61,"y":56.8},{"h":"5.50","x":4.68,"y":57.3},{"h":"5.50","x":4.76,"y":57.6},{"h":"5.50","x":4.84,"y":57.7},{"h":"5.50","x":4.92,"y":58.0},{"h":"5.50","x":5.0,"y":58.2},{"h":"5.50","x":5.08,"y":58.5},{"h":"5.50","x":5.2,"y":58.3},{"h":"5.50","x":5.28,"y":58.8},{"h":"5.50","x":5.35,"y":59.1},{"h":"5.50","x":5.45,"y":59.8},{"h":"5.50","x":5.54,"y":60.5},{"h":"5.50","x":5.62,"y":61.1},{"h":"5.50","x":5.7,"y":61.8},{"h":"5.50","x":5.78,"y":62.4},{"h":"5.50","x":5.85,"y":63.1},{"h":"5.50","x":5.96,"y":64.3},{"h":"5.50","x":6.0,"y":62.1},{"h":"5.50","x":6.01,"y":65.8},{"h":"5.50","x":6.07,"y":66.8},{"h":"5.50","x":6.13,"y":67.4},{"h":"5.50","x":6.18,"y":68.1},{"h":"5.50","x":6.21,"y":70.7},{"h":"5.50","x":6.26,"y":72.1},{"h":"5.50","x":6.32,"y":74.1},{"h":"5.50","x":6.38,"y":77.4},{"h":"5.50","x":6.43,"y":80.7},{"h":"5.50","x":6.44,"y":83.0},{"h":"5.50","x":6.47,"y":78.7},{"h":"5.50","x":6.51,"y":87.3},{"h":"5.50","x":6.52,"y":88.2},{"h":"5.50","x":6.54,"y":72},{"h":"5.50","x":6.55,"y":46},{"h":"5.50","x":6.56,"y":34},{"h":"5.50","x":6.59,"y":14},{"h":"5.50","x":6.62,"y":3},{"h":"5.50","x":6.67,"y":0.7},{"h":"5.50","x":6.71,"y":1.8},{"h":"5.50","x":6.75,"y":0},{"h":"5.50","x":6.79,"y":7},{"h":"5.50","x":6.82,"y":15.5},{"h":"5.50","x":6.84,"y":20},{"h":"5.50","x":6.86,"y":21.5},{"h":"5.50","x":6.89,"y":23.0},{"h":"5.50","x":6.91,"y":27.0},{"h":"5.50","x":6.935,"y":21.0},{"h":"5.50","x":6.97,"y":25.5},{"h":"5.50","x":7.0,"y":23.0},{"h":"5.50","x":7.03,"y":27.5},{"h":"5.50","x":7.06,"y":22.0},{"h":"5.50","x":7.09,"y":24.0},{"h":"5.50","x":7.12,"y":19.5},{"h":"5.50","x":7.16,"y":27.0},{"h":"5.50","x":7.19,"y":21.0},{"h":"5.50","x":7.22,"y":24.5},{"h":"5.50","x":7.26,"y":30.5},{"h":"5.50","x":7.29,"y":18.0},{"h":"5.50","x":7.32,"y":28.5},{"h":"5.50","x":7.35,"y":23.5},{"h":"5.50","x":7.38,"y":22.0},

{"h":"17.27","x":0.5,"y":0},{"h":"17.27","x":0.78,"y":0},{"h":"17.27","x":0.8,"y":1.0},{"h":"17.27","x":0.85,"y":1.2},{"h":"17.27","x":1.0,"y":1.3},{"h":"17.27","x":1.2,"y":1.4},{"h":"17.27","x":1.3,"y":1.3},{"h":"17.27","x":1.4,"y":1.5},{"h":"17.27","x":1.47,"y":1.8},{"h":"17.27","x":1.53,"y":3.1},{"h":"17.27","x":1.6,"y":3.4},{"h":"17.27","x":1.7,"y":3.6},{"h":"17.27","x":1.85,"y":3.5},{"h":"17.27","x":2.0,"y":3.2},{"h":"17.27","x":2.2,"y":2.9},{"h":"17.27","x":2.4,"y":2.6},{"h":"17.27","x":2.6,"y":2.3},{"h":"17.27","x":2.8,"y":2.1},{"h":"17.27","x":3.0,"y":2.0},{"h":"17.27","x":3.2,"y":2.2},{"h":"17.27","x":3.5,"y":2.4},{"h":"17.27","x":3.8,"y":2.7},{"h":"17.27","x":4.0,"y":3.0},{"h":"17.27","x":4.1,"y":3.3},{"h":"17.27","x":4.17,"y":3.6},{"h":"17.27","x":4.19,"y":10},{"h":"17.27","x":4.21,"y":35},{"h":"17.27","x":4.24,"y":55},{"h":"17.27","x":4.26,"y":63},{"h":"17.27","x":4.28,"y":65.8},{"h":"17.27","x":4.35,"y":66.2},{"h":"17.27","x":4.42,"y":65.9},{"h":"17.27","x":4.44,"y":65.0},{"h":"17.27","x":4.47,"y":66.3},{"h":"17.27","x":4.61,"y":66.8},{"h":"17.27","x":4.63,"y":65.9},{"h":"17.27","x":4.66,"y":66.7},{"h":"17.27","x":4.78,"y":66.8},{"h":"17.27","x":4.92,"y":66.9},{"h":"17.27","x":5.05,"y":66.6},{"h":"17.27","x":5.18,"y":66.3},{"h":"17.27","x":5.24,"y":66.6},{"h":"17.27","x":5.29,"y":65.4},{"h":"17.27","x":5.31,"y":66.5},{"h":"17.27","x":5.39,"y":66.9},{"h":"17.27","x":5.54,"y":67.3},{"h":"17.27","x":5.67,"y":67.6},{"h":"17.27","x":5.7,"y":68.1},{"h":"17.27","x":5.8,"y":68.6},{"h":"17.27","x":5.93,"y":69.1},{"h":"17.27","x":5.99,"y":69.4},{"h":"17.27","x":6.01,"y":67.8},{"h":"17.27","x":6.02,"y":72.7},{"h":"17.27","x":6.06,"y":77.4},{"h":"17.27","x":6.12,"y":81.4},{"h":"17.27","x":6.2,"y":83.4},{"h":"17.27","x":6.26,"y":84.0},{"h":"17.27","x":6.34,"y":83.0},{"h":"17.27","x":6.41,"y":84.9},{"h":"17.27","x":6.46,"y":80.4},{"h":"17.27","x":6.51,"y":85.0},{"h":"17.27","x":6.53,"y":84.7},{"h":"17.27","x":6.545,"y":70},{"h":"17.27","x":6.555,"y":46},{"h":"17.27","x":6.565,"y":34},{"h":"17.27","x":6.595,"y":14},{"h":"17.27","x":6.625,"y":3},{"h":"17.27","x":6.675,"y":0.7},{"h":"17.27","x":6.715,"y":1.8},{"h":"17.27","x":6.755,"y":0},{"h":"17.27","x":6.795,"y":7},{"h":"17.27","x":6.825,"y":15.5},{"h":"17.27","x":6.84,"y":20},{"h":"17.27","x":6.86,"y":22.5},{"h":"17.27","x":6.89,"y":24.0},{"h":"17.27","x":6.91,"y":29.5},{"h":"17.27","x":6.935,"y":23.0},{"h":"17.27","x":6.97,"y":25.5},{"h":"17.27","x":7.0,"y":22.0},{"h":"17.27","x":7.03,"y":24.5},{"h":"17.27","x":7.06,"y":21.0},{"h":"17.27","x":7.09,"y":26.5},{"h":"17.27","x":7.12,"y":21.5},{"h":"17.27","x":7.16,"y":26.0},{"h":"17.27","x":7.19,"y":18.8},{"h":"17.27","x":7.22,"y":25.5},{"h":"17.27","x":7.26,"y":28.5},{"h":"17.27","x":7.29,"y":22.0},{"h":"17.27","x":7.32,"y":23.5},{"h":"17.27","x":7.35,"y":25.0},{"h":"17.27","x":7.38,"y":22.5},

{"h":"22.10","x":0.5,"y":0},{"h":"22.10","x":0.78,"y":0},{"h":"22.10","x":0.8,"y":1.1},{"h":"22.10","x":0.85,"y":1.3},{"h":"22.10","x":1.0,"y":1.4},{"h":"22.10","x":1.2,"y":1.5},{"h":"22.10","x":1.3,"y":1.3},{"h":"22.10","x":1.4,"y":1.6},{"h":"22.10","x":1.47,"y":1.8},{"h":"22.10","x":1.53,"y":3.2},{"h":"22.10","x":1.6,"y":3.5},{"h":"22.10","x":1.7,"y":3.7},{"h":"22.10","x":1.85,"y":3.6},{"h":"22.10","x":2.0,"y":3.3},{"h":"22.10","x":2.2,"y":3.0},{"h":"22.10","x":2.4,"y":2.7},{"h":"22.10","x":2.6,"y":2.4},{"h":"22.10","x":2.8,"y":2.2},{"h":"22.10","x":3.0,"y":2.0},{"h":"22.10","x":3.2,"y":2.0},{"h":"22.10","x":3.4,"y":1.9},{"h":"22.10","x":3.6,"y":2.1},{"h":"22.10","x":3.8,"y":2.4},{"h":"22.10","x":3.95,"y":2.7},{"h":"22.10","x":4.03,"y":3.2},{"h":"22.10","x":4.05,"y":6},{"h":"22.10","x":4.07,"y":9},{"h":"22.10","x":4.1,"y":30},{"h":"22.10","x":4.13,"y":41.5},{"h":"22.10","x":4.15,"y":50},{"h":"22.10","x":4.18,"y":62},{"h":"22.10","x":4.2,"y":68.4},{"h":"22.10","x":4.3,"y":69.0},{"h":"22.10","x":4.42,"y":69.1},{"h":"22.10","x":4.43,"y":68.1},{"h":"22.10","x":4.45,"y":69.2},{"h":"22.10","x":4.61,"y":69.4},{"h":"22.10","x":4.62,"y":68.3},{"h":"22.10","x":4.64,"y":69.3},{"h":"22.10","x":4.78,"y":69.2},{"h":"22.10","x":4.92,"y":69.3},{"h":"22.10","x":5.05,"y":69.0},{"h":"22.10","x":5.18,"y":68.3},{"h":"22.10","x":5.23,"y":68.9},{"h":"22.10","x":5.39,"y":69.6},{"h":"22.10","x":5.54,"y":70.1},{"h":"22.10","x":5.67,"y":71.1},{"h":"22.10","x":5.7,"y":71.2},{"h":"22.10","x":5.78,"y":72.3},{"h":"22.10","x":5.85,"y":73.4},{"h":"22.10","x":5.96,"y":76.1},{"h":"22.10","x":5.99,"y":77.4},{"h":"22.10","x":6.0,"y":74.7},{"h":"22.10","x":6.02,"y":80.1},{"h":"22.10","x":6.07,"y":83.1},{"h":"22.10","x":6.13,"y":84.7},{"h":"22.10","x":6.26,"y":86.0},{"h":"22.10","x":6.41,"y":87.0},{"h":"22.10","x":6.47,"y":81.4},{"h":"22.10","x":6.49,"y":86.7},{"h":"22.10","x":6.54,"y":86.7},{"h":"22.10","x":6.56,"y":46.5},{"h":"22.10","x":6.57,"y":34.6},{"h":"22.10","x":6.6,"y":14.6},{"h":"22.10","x":6.63,"y":3.0},{"h":"22.10","x":6.68,"y":0.7},{"h":"22.10","x":6.72,"y":1.9},{"h":"22.10","x":6.76,"y":0},{"h":"22.10","x":6.8,"y":8},{"h":"22.10","x":6.83,"y":16.3},{"h":"22.10","x":6.845,"y":20.3},{"h":"22.10","x":6.86,"y":23.6},{"h":"22.10","x":6.89,"y":22.5},{"h":"22.10","x":6.91,"y":28.6},{"h":"22.10","x":6.935,"y":22.0},{"h":"22.10","x":6.97,"y":26.6},{"h":"22.10","x":7.0,"y":21.5},{"h":"22.10","x":7.03,"y":25.3},{"h":"22.10","x":7.06,"y":20.3},{"h":"22.10","x":7.09,"y":25.9},{"h":"22.10","x":7.12,"y":20.6},{"h":"22.10","x":7.16,"y":24.9},{"h":"22.10","x":7.19,"y":22.3},{"h":"22.10","x":7.22,"y":26.6},{"h":"22.10","x":7.26,"y":20.3},{"h":"22.10","x":7.29,"y":25.3},{"h":"22.10","x":7.32,"y":22.0},{"h":"22.10","x":7.35,"y":24.6},{"h":"22.10","x":7.38,"y":23.0}
]
},
"layer": [
{
"data": {"name": "curves"},
"mark": {"type": "line", "strokeCap": "round", "strokeJoin": "round", "clip": true},
"encoding": {
"x": {"field": "x", "type": "quantitative",
 "scale": {"domain": [0.5, 7.486], "nice": false, "zero": false},
 "axis": {"values": [0.5, 2.5, 4.5, 6.5], "title": "Longitud de la celda ( cm )",
  "labelFont": "Open Sans", "labelFontSize": 61, "labelColor": "#000", "labelBaseline": "alphabetic", "labelPadding": 135, "labelFlush": false, "labelOverlap": false,
  "tickSize": -20, "tickColor": "#000", "tickWidth": 2, "domain": false,
  "titleFont": "Open Sans", "titleFontSize": 69, "titleFontWeight": "bold", "titleColor": "#000", "titleBaseline": "alphabetic", "titleY": 179}},
"y": {"field": "y", "type": "quantitative",
 "scale": {"domain": [0, 100], "nice": false},
 "axis": {"values": [0, 25, 50, 75, 100], "title": "Retrodispersión (%)",
  "labelFont": "Liberation Sans", "labelFontSize": 70, "labelColor": "#000", "labelPadding": 85, "labelFlush": false, "labelOverlap": false,
  "tickSize": -20, "tickColor": "#000", "tickWidth": 2, "domain": false,
  "titleFont": "Liberation Sans", "titleFontSize": 84, "titleFontWeight": "bold", "titleColor": "#000",
  "titleX": -189.5, "titleY": 479, "titleAlign": "center", "titleBaseline": "alphabetic", "titleAngle": 270}},
"color": {"field": "h", "type": "nominal",
 "scale": {"domain": ["0.00","0.25","0.50","0.75","1.00","1.25","1.50","2.00","3.25","5.50","17.27","22.10"],
  "range": ["#4F81BD","#C0504D","#9BBB59","#B3A2C7","#4BACC6","#F79646","#2C4D75","#5F7530","#D07674","#31859C","#632523","#604A7B"]},
 "legend": {"title": "Horas", "orient": "none", "legendX": 54, "legendY": 109.6, "columns": 2, "direction": "horizontal",
  "symbolType": "stroke", "symbolSize": 4900, "symbolStrokeWidth": 5.5,
  "labelFont": "Liberation Sans", "labelFontSize": 69, "labelColor": "#000", "labelLimit": 500, "labelOffset": 8,
  "titleFont": "Liberation Sans", "titleFontSize": 79, "titleFontWeight": "bold", "titleColor": "#000", "titleAnchor": "middle", "titlePadding": 30.6, "titleLimit": 800,
  "rowPadding": 11.4, "columnPadding": 77, "padding": 0,
  "encode": {"symbols": {"update": {
   "strokeWidth": {"signal": "datum.value === '0.00' ? 9 : 5.5"},
   "strokeDash": {"signal": "datum.value === '0.00' ? [26,17] : [1,0]"},
   "strokeCap": {"value": "round"}}}}}},
"strokeDash": {"field": "h", "type": "nominal", "legend": null,
 "scale": {"domain": ["0.00","0.25","0.50","0.75","1.00","1.25","1.50","2.00","3.25","5.50","17.27","22.10"],
  "range": [[15,19],[1,0],[1,0],[1,0],[1,0],[1,0],[1,0],[1,0],[1,0],[1,0],[1,0],[1,0]]}},
"strokeWidth": {"condition": {"test": "datum.h === '0.00'", "value": 8}, "value": 6}
}
},
{
"data": {"name": "ann"},
"mark": {"type": "text", "font": "Open Sans", "fontSize": 63, "fontWeight": "bold", "baseline": "alphabetic", "align": "center", "color": "#000"},
"encoding": {
"x": {"field": "x", "type": "quantitative"},
"y": {"field": "y", "type": "quantitative"},
"text": {"field": "label"}
}
},
{
"data": {"name": "arrow"},
"mark": {"type": "point", "shape": "M-6.09,0L-5.1,-1L-5.1,-0.53L6.09,-0.53L6.09,0.53L-5.1,0.53L-5.1,1Z", "filled": true, "color": "#002060", "size": 3758, "opacity": 1, "strokeWidth": 0},
"encoding": {
"x": {"field": "x", "type": "quantitative"},
"y": {"field": "y", "type": "quantitative"}
}
}
]
}
